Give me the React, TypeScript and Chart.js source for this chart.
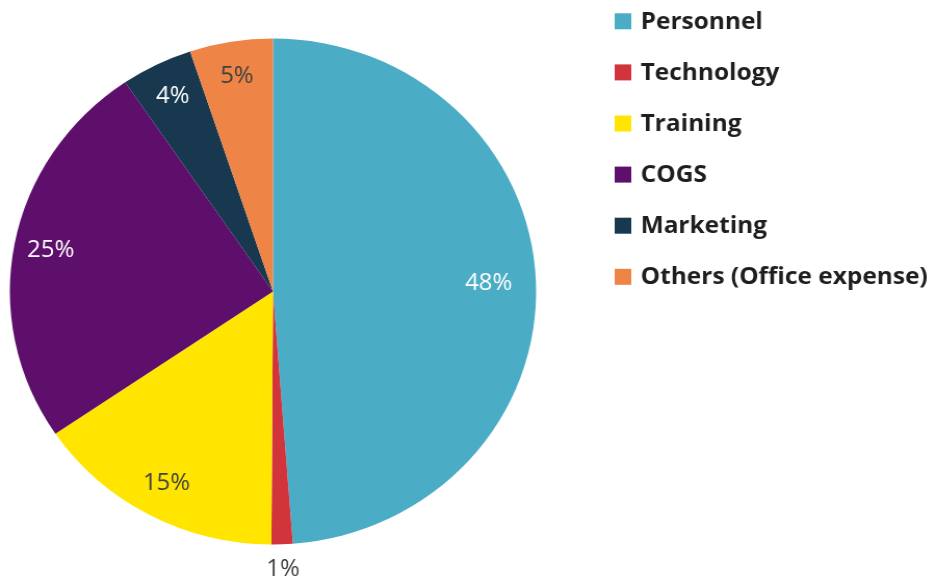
import React, { useEffect, useRef } from "react";
import { Chart, registerables } from "chart.js";

Chart.register(...registerables);

const categories = ["Personnel", "Technology", "Training", "COGS", "Marketing", "Others (Office expense)"];
const shares = [48.8, 1.3, 15.4, 25.0, 4.4, 5.1];
const shareLabels = ["48%", "1%", "15%", "25%", "4%", "5%"];
const sliceColors = ["#4BACC6", "#D1343A", "#FFE500", "#5E0F6C", "#17384E", "#EE8547"];
const labelColors = ["#FFFFFF", "#404040", "#404040", "#FFFFFF", "#FFFFFF", "#404040"];
const labelRadius = [0.82, 1.1, 0.86, 0.86, 0.86, 0.86];

const labelPlugin = {
  id: "sliceLabels",
  afterDatasetsDraw(chart: any) {
    const ctx = chart.ctx;
    const meta = chart.getDatasetMeta(0);
    ctx.save();
    ctx.font = "23px 'Open Sans', sans-serif";
    ctx.textAlign = "center";
    ctx.textBaseline = "middle";
    meta.data.forEach((arc: any, i: number) => {
      const mid = (arc.startAngle + arc.endAngle) / 2;
      const f = labelRadius[i];
      const x = arc.x + Math.cos(mid) * arc.outerRadius * f;
      const y = arc.y + Math.sin(mid) * arc.outerRadius * f;
      ctx.fillStyle = labelColors[i];
      ctx.fillText(shareLabels[i], x, y);
    });
    ctx.restore();
  },
};

const legendPlugin = {
  id: "sideLegend",
  afterDraw(chart: any) {
    const ctx = chart.ctx;
    const boxX = 591;
    const textX = 616;
    const top = 21.3;
    const step = 51.1;
    const box = 16;
    ctx.save();
    ctx.font = "bold 23.5px 'Open Sans', sans-serif";
    ctx.textAlign = "left";
    ctx.textBaseline = "middle";
    categories.forEach((c, i) => {
      const cy = top + i * step;
      ctx.fillStyle = sliceColors[i];
      ctx.fillRect(boxX, cy - box / 2, box, box);
      ctx.fillStyle = "#1E1E1E";
      ctx.fillText(c, textX, cy + 1);
    });
    ctx.restore();
  },
};

export default function App() {
  const ref = useRef<HTMLCanvasElement>(null);
  useEffect(() => {
    if (!ref.current) return;
    const chart = new Chart(ref.current, {
      type: "pie",
      data: {
        labels: categories,
        datasets: [
          {
            data: shares,
            backgroundColor: sliceColors,
            borderWidth: 0,
          },
        ],
      },
      options: {
        responsive: false,
        animation: false,
        layout: { padding: { left: 9.5, right: 384.5, top: 38.5, bottom: 37.5 } },
        plugins: {
          legend: { display: false },
          tooltip: { enabled: false },
        },
      },
      plugins: [labelPlugin, legendPlugin],
    });
    return () => chart.destroy();
  }, []);
  return (
    <div style={{ position: "fixed", left: 0, top: 0, width: 936, height: 582, background: "#fff" }}>
      <canvas ref={ref} width={900} height={582} style={{ width: "936px", height: "582px", display: "block" }} />
    </div>
  );
}
